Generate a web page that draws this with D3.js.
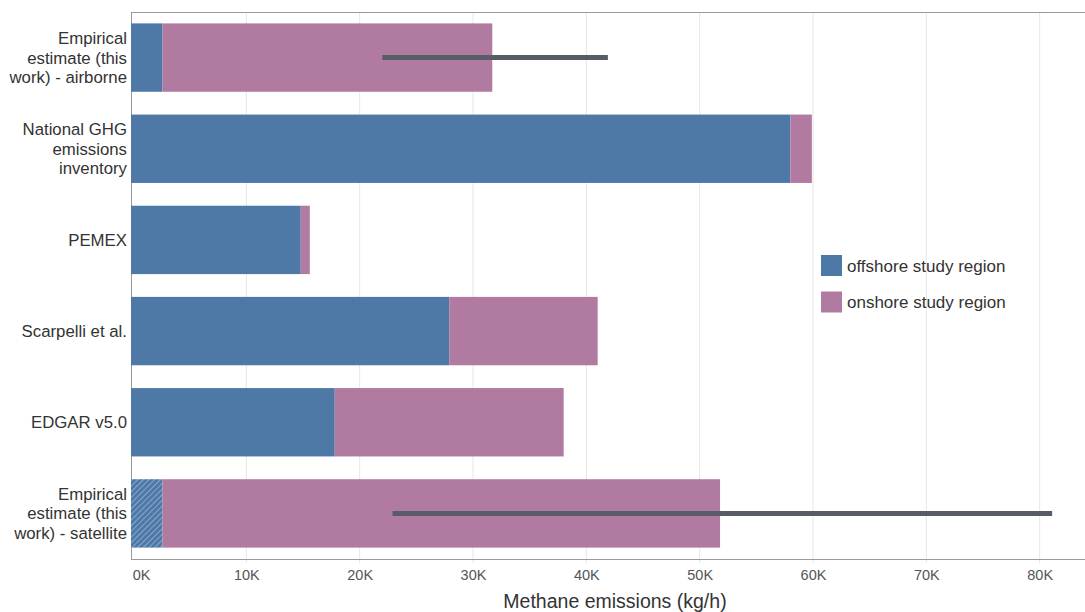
<!DOCTYPE html>
<html>
<head>
<meta charset="utf-8">
<script src="https://cdn.jsdelivr.net/npm/d3@7"></script>
<style>
  body { margin: 0; background: #fff; }
  svg { font-family: "Liberation Sans", Arial, sans-serif; }
</style>
</head>
<body>
<script>
// categories, top to bottom
var categories = ["airborne", "inventory", "pemex", "scarpelli", "edgar", "satellite"];
var labelLines = [
    ["Empirical", "estimate (this", "work) - airborne"],
    ["National GHG", "emissions", "inventory"],
    ["PEMEX"],
    ["Scarpelli et al."],
    ["EDGAR v5.0"],
    ["Empirical", "estimate (this", "work) - satellite"]
];
// kg/h
var offshore = [2600, 58000, 14800, 27900, 17800, 2600];
var onshore  = [29100, 1900, 800, 13100, 20200, 49200];
var errLow   = [22000, null, null, null, null, 22900];
var errHigh  = [41900, null, null, null, null, 81100];
var hatched  = [false, false, false, false, false, true];
var xTicks = [0, 10000, 20000, 30000, 40000, 50000, 60000, 70000, 80000];
var seriesNames = ["offshore study region", "onshore study region"];

var width = 1085, height = 612;
var margin = {top: 12, right: 0, bottom: 53, left: 131};
var blue = "#4e79a7", pink = "#b07aa1";

var svg = d3.select("body").append("svg")
    .attr("width", width)
    .attr("height", height);

var defs = svg.append("defs");
var pat = defs.append("pattern")
    .attr("id", "hatch")
    .attr("patternUnits", "userSpaceOnUse")
    .attr("width", 4)
    .attr("height", 4)
    .attr("patternTransform", "rotate(45)");
pat.append("rect").attr("width", 4).attr("height", 4).attr("fill", blue);
pat.append("line")
    .attr("x1", 0).attr("y1", 0).attr("x2", 0).attr("y2", 4)
    .attr("stroke", "#9db8d8").attr("stroke-width", 1.5);

var x = d3.scaleLinear().domain([0, 84000]).range([133, width]);
var y = d3.scaleBand().domain(categories)
    .range([margin.top, height - margin.bottom])
    .paddingInner(0.25).paddingOuter(0.125);

var plotBottom = height - margin.bottom;

// gridlines
svg.append("g")
    .selectAll("line")
    .data(xTicks.slice(1))
    .enter().append("line")
    .attr("x1", function(d) { return x(d); })
    .attr("x2", function(d) { return x(d); })
    .attr("y1", margin.top)
    .attr("y2", plotBottom + 4)
    .attr("stroke", "#e6e6e6")
    .attr("stroke-width", 1);

// frame
svg.append("line")
    .attr("x1", margin.left).attr("x2", width)
    .attr("y1", margin.top + 0.5).attr("y2", margin.top + 0.5)
    .attr("stroke", "#9a9a9a");
svg.append("line")
    .attr("x1", margin.left + 0.5).attr("x2", margin.left + 0.5)
    .attr("y1", margin.top).attr("y2", plotBottom)
    .attr("stroke", "#9a9a9a");

// offshore bars
svg.append("g")
    .selectAll("rect")
    .data(categories)
    .enter().append("rect")
    .attr("x", margin.left)
    .attr("y", function(d) { return y(d); })
    .attr("width", function(d, i) { return x(offshore[i]) - margin.left; })
    .attr("height", y.bandwidth())
    .attr("fill", function(d, i) { return hatched[i] ? "url(#hatch)" : blue; });

// onshore bars
svg.append("g")
    .selectAll("rect")
    .data(categories)
    .enter().append("rect")
    .attr("x", function(d, i) { return x(offshore[i]); })
    .attr("y", function(d) { return y(d); })
    .attr("width", function(d, i) { return x(offshore[i] + onshore[i]) - x(offshore[i]); })
    .attr("height", y.bandwidth())
    .attr("fill", pink);

// error bars
svg.append("g")
    .selectAll("line")
    .data(categories.filter(function(d, i) { return errLow[i] != null; }))
    .enter().append("line")
    .attr("x1", function(d) { return x(errLow[categories.indexOf(d)]); })
    .attr("x2", function(d) { return x(errHigh[categories.indexOf(d)]); })
    .attr("y1", function(d) { return y(d) + y.bandwidth() / 2; })
    .attr("y2", function(d) { return y(d) + y.bandwidth() / 2; })
    .attr("stroke", "#575c66")
    .attr("stroke-width", 5);

// x axis
var xAxis = svg.append("g")
    .attr("transform", "translate(0," + plotBottom + ")")
    .call(d3.axisBottom(x).tickValues(xTicks).tickSize(0).tickPadding(11)
        .tickFormat(function(d) { return (d / 1000) + "K"; }));
xAxis.select(".domain").attr("stroke", "#9a9a9a").attr("d", "M" + margin.left + ",0.5H" + width);
xAxis.selectAll("text")
    .attr("font-size", 14.5)
    .attr("fill", "#555")
    .attr("font-family", "\"Liberation Sans\", Arial, sans-serif");
xAxis.selectAll(".tick").filter(function(d) { return d === 0; })
    .select("text").attr("dx", 8);

svg.append("text")
    .attr("x", 615)
    .attr("y", 608)
    .attr("text-anchor", "middle")
    .attr("font-size", 19.5)
    .attr("fill", "#333")
    .text("Methane emissions (kg/h)");

// y labels
var lineH = 19.5;
categories.forEach(function(c, i) {
    var lines = labelLines[i];
    var cy = y(c) + y.bandwidth() / 2;
    var t = svg.append("text")
        .attr("text-anchor", "end")
        .attr("font-size", 16.8)
        .attr("fill", "#333");
    lines.forEach(function(s, j) {
        t.append("tspan")
            .attr("x", 127)
            .attr("y", cy + (j - (lines.length - 1) / 2) * lineH + 6)
            .text(s);
    });
});

// legend
var legend = svg.append("g");
var legendColors = [blue, pink];
seriesNames.forEach(function(s, i) {
    legend.append("rect")
        .attr("x", 821)
        .attr("y", 255 + i * 36.5)
        .attr("width", 21)
        .attr("height", 21)
        .attr("fill", legendColors[i]);
    legend.append("text")
        .attr("x", 847)
        .attr("y", 271.5 + i * 36.5)
        .attr("font-size", 17)
        .attr("fill", "#333")
        .text(s);
});
</script>
</body>
</html>
